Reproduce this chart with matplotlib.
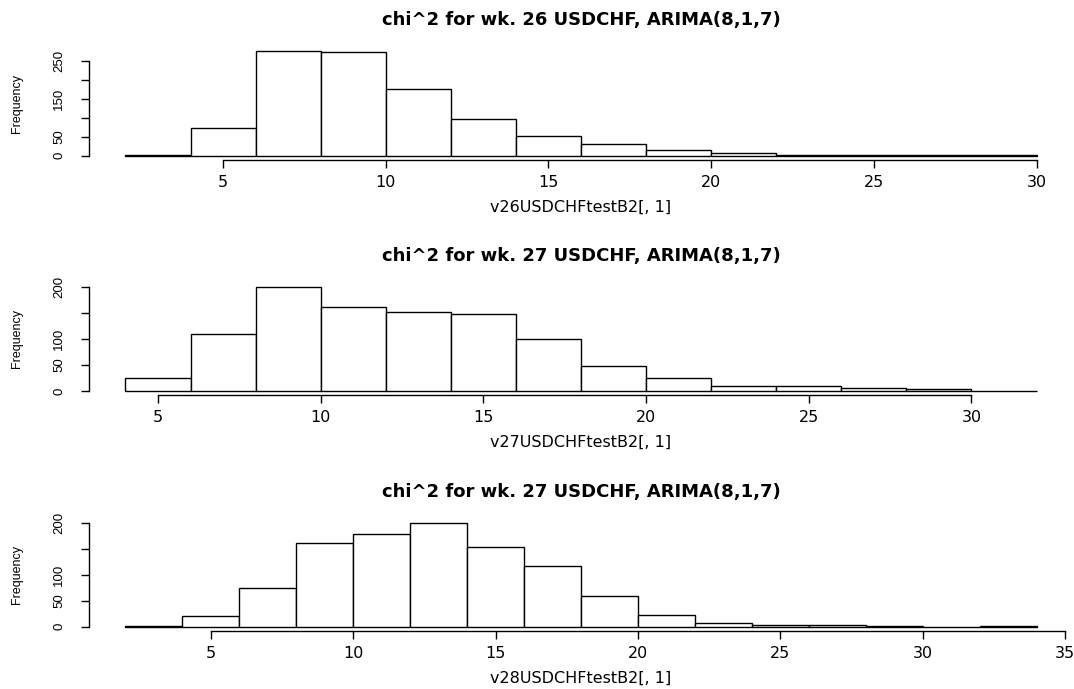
import matplotlib
matplotlib.use("Agg")
import matplotlib.pyplot as plt

# chi^2 histogram counts, bin width 2
breaks26 = list(range(2, 32, 2))
counts26 = [1, 73, 276, 273, 175, 96, 53, 30, 14, 8, 2, 1, 1, 1]

breaks27 = list(range(4, 34, 2))
counts27 = [25, 110, 201, 163, 153, 149, 100, 49, 25, 10, 10, 5, 3, 1]

breaks28 = list(range(2, 36, 2))
counts28 = [2, 20, 75, 160, 178, 200, 154, 117, 60, 22, 7, 3, 4, 1, 0, 1]

titles = ["chi^2 for wk. 26 USDCHF, ARIMA(8,1,7)",
          "chi^2 for wk. 27 USDCHF, ARIMA(8,1,7)",
          "chi^2 for wk. 27 USDCHF, ARIMA(8,1,7)"]
xlabels = ["v26USDCHFtestB2[, 1]", "v27USDCHFtestB2[, 1]", "v28USDCHFtestB2[, 1]"]

xticks = [[5, 10, 15, 20, 25, 30], [5, 10, 15, 20, 25, 30], [5, 10, 15, 20, 25, 30, 35]]
yticks = [[0, 50, 100, 150, 200, 250], [0, 50, 100, 150, 200], [0, 50, 100, 150, 200]]
# R drops the labels that would overlap
ylabels = [["0", "50", "", "150", "", "250"],
           ["0", "50", "100", "", "200"],
           ["0", "50", "100", "", "200"]]

plt.rcParams["font.family"] = ["DejaVu Sans"]

W, H = 1074, 689
fig = plt.figure(figsize=(W / 100, H / 100), dpi=100)

# plot regions in pixels (top, bottom)
boxes = [(46.6, 159.9), (282.7, 395.2), (518.5, 630.9)]
left, right = 89, 1073

data = [(breaks26, counts26), (breaks27, counts27), (breaks28, counts28)]

for i, (breaks, counts) in enumerate(data):
    top, bottom = boxes[i]
    ax = fig.add_axes([left / W, 1 - bottom / H, (right - left) / W, (bottom - top) / H])
    ax.bar(breaks[:-1], counts, width=2, align="edge",
           facecolor="white", edgecolor="black", linewidth=1.0)

    lo, hi = breaks[0], breaks[-1]
    ax.set_xlim(lo - 0.04 * (hi - lo), hi + 0.04 * (hi - lo))
    ymax = max(counts)
    ax.set_ylim(-0.04 * ymax, 1.04 * ymax)

    for s in ["top", "right"]:
        ax.spines[s].set_visible(False)
    ax.spines["left"].set_bounds(yticks[i][0], yticks[i][-1])
    ax.spines["bottom"].set_bounds(xticks[i][0], xticks[i][-1])
    ax.spines["left"].set_linewidth(1.0)
    ax.spines["bottom"].set_linewidth(1.0)

    ax.set_xticks(xticks[i])
    ax.set_xticklabels([str(t) for t in xticks[i]], fontsize=11.5)
    ax.set_yticks(yticks[i])
    ax.set_yticklabels(ylabels[i], fontsize=9.5, family="Liberation Sans")
    ax.tick_params(direction="out", length=6, width=1.0)
    ax.tick_params(axis="x", pad=4.8)
    ax.tick_params(axis="y", pad=11)
    for lab in ax.get_yticklabels():
        lab.set_rotation(90)
        lab.set_va("center")
        lab.set_ha("right")

    ax.annotate(titles[i], xy=(0.5, 1), xycoords="axes fraction",
                xytext=(0, 19.4), textcoords="offset points",
                ha="center", va="center", fontsize=13, fontweight="bold")
    ax.annotate(xlabels[i], xy=(0.5, 0), xycoords="axes fraction",
                xytext=(0, -33.8), textcoords="offset points",
                ha="center", va="center", fontsize=11.5)
    ax.annotate("Frequency", xy=(0, 0.5), xycoords="axes fraction",
                xytext=(-51.8, 0), textcoords="offset points",
                ha="center", va="center", rotation=90, fontsize=9,
                family="Liberation Sans")

fig.savefig("out.png", dpi=100, facecolor="white")
